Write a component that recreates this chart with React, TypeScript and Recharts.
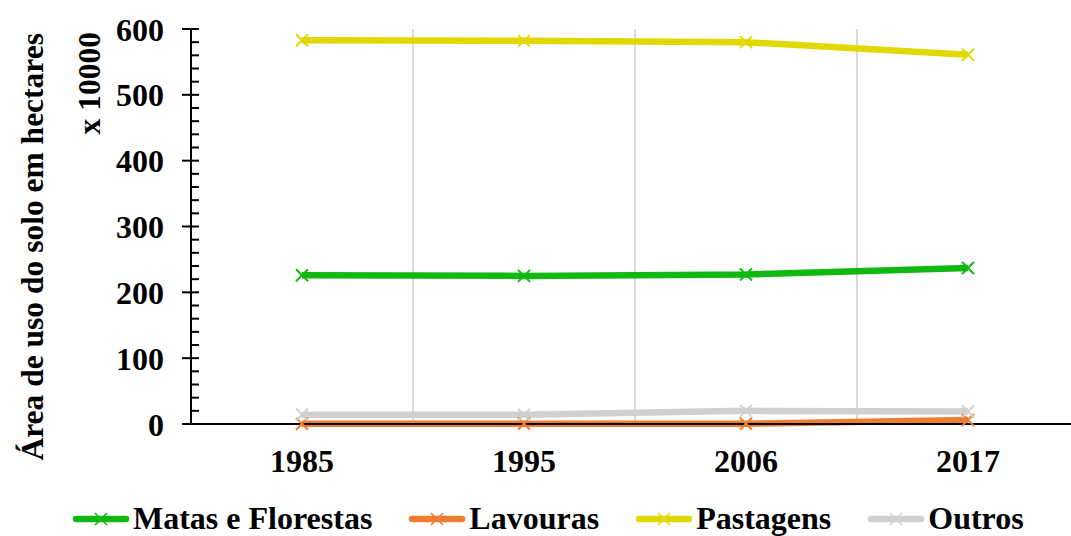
import React from 'react';
import { LineChart, Line, XAxis, YAxis, CartesianGrid, Legend } from 'recharts';

const years = ['1985', '1995', '2006', '2017'];
const matas = [226, 225, 227, 237];
const lavouras = [0.5, 0.5, 0.5, 6];
const pastagens = [583, 582, 580, 561];
const outros = [14, 14, 20, 19];

// minor ticks every 20, labels only on the hundreds
const yMinor = Array.from({ length: 31 }, (_, i) => i * 20);

const FONT = "'Liberation Serif', 'Times New Roman', serif";

const series = [
  { key: 'matas', name: 'Matas e Florestas', color: '#12B812' },
  { key: 'lavouras', name: 'Lavouras', color: '#ED7D31' },
  { key: 'pastagens', name: 'Pastagens', color: '#E0D800' },
  { key: 'outros', name: 'Outros', color: '#D0D0D0' },
];

const data = years.map((year, i) => ({
  year,
  matas: matas[i],
  lavouras: lavouras[i],
  pastagens: pastagens[i],
  outros: outros[i],
}));

const makeDot = (color: string) => (props: any) => {
  const { cx, cy, index } = props;
  if (cx == null || cy == null) return <g key={`d-${index}`} />;
  const s = 6;
  return (
    <path
      key={`d-${index}`}
      d={`M${cx - s},${cy - s}L${cx + s},${cy + s}M${cx - s},${cy + s}L${cx + s},${cy - s}`}
      stroke={color}
      strokeWidth={2}
      fill="none"
    />
  );
};

const YTick = (props: any) => {
  const { x, y, payload } = props;
  const major = payload.value % 100 === 0;
  return (
    <g>
      <line x1={x} x2={x + 8} y1={y} y2={y} stroke="#000" strokeWidth={2} />
      {major && <line x1={x - 9} x2={x} y1={y} y2={y} stroke="#000" strokeWidth={2} />}
      {major && (
        <text
          x={x - 27}
          y={y}
          dy="0.36em"
          textAnchor="end"
          fontFamily={FONT}
          fontWeight="bold"
          fontSize={32}
          fill="#000"
        >
          {payload.value}
        </text>
      )}
    </g>
  );
};

const AxisTitle = () => (
  <g fontFamily={FONT} fontWeight="bold" fontSize={31.5} fill="#000">
    <text x={43} y={33} transform="rotate(-90, 43, 33)" textAnchor="end">
      Área de uso do solo em hectares
    </text>
    <text x={100} y={32} transform="rotate(-90, 100, 32)" textAnchor="end">
      x 10000
    </text>
  </g>
);

const LegendIcon = ({ color }: { color: string }) => (
  <svg width={58} height={16} style={{ display: 'block', marginTop: 8 }}>
    <line x1={4} x2={54} y1={8} y2={8} stroke={color} strokeWidth={6.5} strokeLinecap="round" />
    <path d="M23,2L35,14M23,14L35,2" stroke={color} strokeWidth={1.6} fill="none" />
  </svg>
);

const renderLegend = () => (
  <div
    style={{
      display: 'flex',
      alignItems: 'flex-start',
      boxSizing: 'border-box',
      height: 36,
      paddingTop: 3,
      paddingLeft: 72,
      fontFamily: FONT,
      fontWeight: 'bold',
      fontSize: 32,
      color: '#000',
      lineHeight: '30px',
      whiteSpace: 'nowrap',
    }}
  >
    {series.map((s) => (
      <div key={s.key} style={{ display: 'flex', alignItems: 'flex-start', marginRight: 36 }}>
        <LegendIcon color={s.color} />
        <span style={{ marginLeft: 3 }}>{s.name}</span>
      </div>
    ))}
  </div>
);

const App: React.FC = () => {
  return (
    <div style={{ position: 'absolute', left: 0, top: 0, width: 1071, height: 536, overflow: 'hidden', background: '#fff' }}>
      <LineChart width={1080} height={536} data={data} margin={{ top: 29, right: 1, bottom: 0, left: 110 }}>
        <CartesianGrid
          vertical
          horizontal={false}
          stroke="#D9D9D9"
          strokeWidth={2}
          verticalCoordinatesGenerator={({ offset }: any) =>
            [1, 2, 3].map((i) => offset.left + (offset.width * i) / years.length)
          }
        />
        <XAxis
          dataKey="year"
          scale="band"
          tickLine={false}
          tickSize={0}
          tickMargin={25}
          height={76}
          axisLine={{ stroke: '#000', strokeWidth: 2 }}
          tick={{ fill: '#000', fontSize: 32, fontWeight: 'bold', fontFamily: FONT }}
        />
        <YAxis
          width={81}
          domain={[0, 600]}
          ticks={yMinor}
          interval={0}
          tickLine={false}
          tickSize={0}
          tickMargin={0}
          axisLine={{ stroke: '#000', strokeWidth: 2 }}
          tick={<YTick />}
          label={<AxisTitle />}
        />
        <Legend verticalAlign="bottom" content={renderLegend} wrapperStyle={{ left: 0, width: 1080 }} />
        {series.map((s) => (
          <Line
            key={s.key}
            dataKey={s.key}
            name={s.name}
            type="linear"
            stroke={s.color}
            strokeWidth={6.5}
            dot={makeDot(s.color)}
            activeDot={false}
            isAnimationActive={false}
          />
        ))}
      </LineChart>
    </div>
  );
};

export default App;
